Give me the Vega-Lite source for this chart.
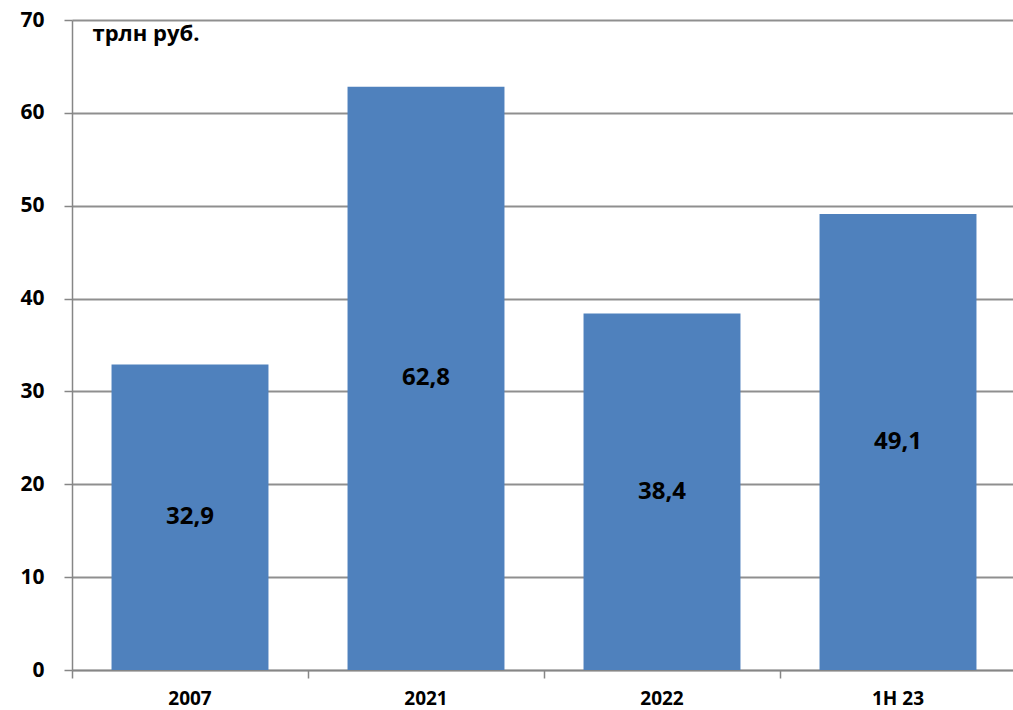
{
  "$schema": "https://vega.github.io/schema/vega-lite/v6.json",
  "autosize": "none",
  "width": 944,
  "height": 650,
  "padding": {"left": 72, "top": 20, "right": 0, "bottom": 40},
  "background": "white",
  "config": {
    "view": {"stroke": null},
    "font": "Open Sans"
  },
  "data": {
    "values": [
      {"period": "2007", "value": 32.9, "label": "32,9"},
      {"period": "2021", "value": 62.8, "label": "62,8"},
      {"period": "2022", "value": 38.4, "label": "38,4"},
      {"period": "1H 23", "value": 49.1, "label": "49,1"}
    ]
  },
  "encoding": {
    "x": {
      "field": "period",
      "type": "nominal",
      "sort": null,
      "scale": {"paddingInner": 0, "paddingOuter": 0},
      "axis": {
        "title": null,
        "bandPosition": 0,
        "labelAngle": 0,
        "labelFont": "Open Sans",
        "labelFontWeight": "bold",
        "labelFontSize": 19,
        "labelColor": "#000000",
        "labelPadding": 11,
        "tickSize": 8,
        "tickColor": "#868686",
        "tickWidth": 1.5,
        "domainColor": "#868686",
        "domainWidth": 1.5,
        "grid": false
      }
    }
  },
  "layer": [
    {
      "mark": {"type": "bar", "color": "#4F81BD", "width": {"band": 0.665}},
      "encoding": {
        "y": {
          "field": "value",
          "type": "quantitative",
          "scale": {"domain": [0, 70], "nice": false},
          "axis": {
            "values": [0, 10, 20, 30, 40, 50, 60, 70],
            "title": "трлн руб.",
            "titleAngle": 0,
            "titleAlign": "left",
            "titleBaseline": "alphabetic",
            "titleX": 20,
            "titleY": 20,
            "titleFont": "Open Sans",
            "titleFontWeight": "bold",
            "titleFontSize": 22,
            "titleColor": "#000000",
            "labelFont": "Open Sans",
            "labelFontWeight": "bold",
            "labelFontSize": 21,
            "labelColor": "#000000",
            "labelPadding": 20,
            "tickSize": 8,
            "tickColor": "#868686",
            "tickWidth": 1.5,
            "domainColor": "#868686",
            "domainWidth": 1.5,
            "grid": true,
            "gridColor": "#8f8f8f",
            "gridWidth": 2
          }
        }
      }
    },
    {
      "mark": {"type": "text", "fontSize": 24, "fontWeight": "bold", "font": "Open Sans", "color": "#000000", "baseline": "middle"},
      "encoding": {
        "y": {
          "field": "value",
          "type": "quantitative",
          "scale": {"domain": [0, 140], "nice": false},
          "axis": null
        },
        "text": {"field": "label"}
      }
    }
  ],
  "resolve": {"scale": {"y": "independent"}}
}
